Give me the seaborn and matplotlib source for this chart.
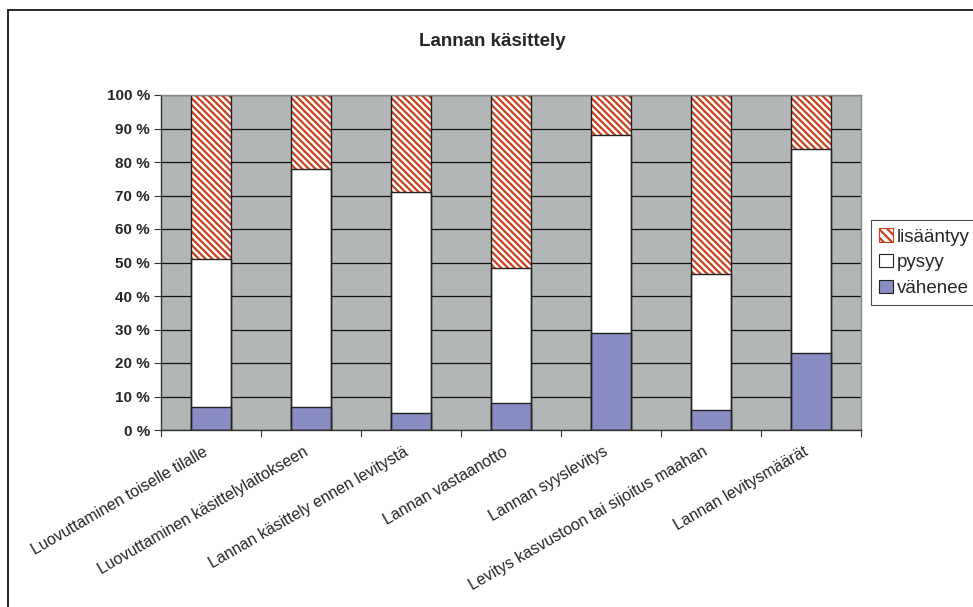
import matplotlib
matplotlib.use('Agg')
import matplotlib.pyplot as plt
import matplotlib.patches as mpatches
import matplotlib.transforms as mtransforms
import seaborn as sns
import pandas as pd

# Tiedot luettu kuvasta (prosentteja)
kohteet = ['Luovuttaminen toiselle tilalle', 'Luovuttaminen käsittelylaitokseen',
           'Lannan käsittely ennen levitystä', 'Lannan vastaanotto', 'Lannan syyslevitys',
           'Levitys kasvustoon tai sijoitus maahan', 'Lannan levitysmäärät']
vahenee = [7, 7, 5, 8, 29, 6, 23]
pysyy = [44, 71, 66, 40.5, 59, 40.5, 61]
lisaantyy = [49, 22, 29, 51.5, 12, 53.5, 16]

df = pd.DataFrame({'kohde': kohteet, 'vahenee': vahenee, 'pysyy': pysyy, 'lisaantyy': lisaantyy})
df['ala'] = df['vahenee']
df['keski'] = df['vahenee'] + df['pysyy']
df['yla'] = df['keski'] + df['lisaantyy']

harmaa = '#B3B6B6'
sininen = '#8A8CC4'
punainen = '#C8401E'
reuna = '#222222'
viivoitus = '\\' * 5

sns.set_style('white')
plt.rcParams['font.family'] = ['Liberation Sans', 'DejaVu Sans']
plt.rcParams['hatch.linewidth'] = 1.6

fig = plt.figure(figsize=(9.73, 6.07), dpi=100)
ax = fig.add_axes([161 / 973, 1 - 430 / 607, 700 / 973, 335 / 607])
ax.set_facecolor(harmaa)

# Pinotut pylväät päällekkäin: ensin kokonaisuus, sitten alemmat osat
sns.barplot(data=df, x='kohde', y='yla', width=0.4, color='white', saturation=1, errorbar=None, ax=ax)
sns.barplot(data=df, x='kohde', y='keski', width=0.4, color='white', saturation=1, errorbar=None, ax=ax)
sns.barplot(data=df, x='kohde', y='ala', width=0.4, color=sininen, saturation=1, errorbar=None, ax=ax)
sns.barplot(data=df, x='kohde', y='yla', width=0.4, color='white', saturation=1, errorbar=None, ax=ax)

for p in ax.containers[0]:
    p.set_facecolor('white')
    p.set_edgecolor(punainen)
    p.set_linewidth(0)
    p.set_hatch(viivoitus)
for c in (ax.containers[1], ax.containers[2]):
    for p in c:
        p.set_edgecolor(reuna)
        p.set_linewidth(1.0)
for p in ax.containers[3]:
    p.set_facecolor('none')
    p.set_edgecolor(reuna)
    p.set_linewidth(1.0)

ax.set_xlim(-0.5, len(kohteet) - 0.5)
ax.set_ylim(0, 100)
ax.set_xlabel('')
ax.set_ylabel('')

ax.set_axisbelow(True)
ax.yaxis.grid(True, color='#111111', linewidth=0.9)
ax.set_yticks(range(0, 101, 10))
ax.set_yticklabels([f'{v} %' for v in range(0, 101, 10)], fontweight='bold', fontsize=11)
ax.tick_params(axis='y', length=5, width=0.8, color='#333333', pad=3, left=True)

ax.set_xticks(range(len(kohteet)))
ax.set_xticklabels(kohteet, rotation=30, ha='right', rotation_mode='anchor', fontsize=11.5)
ax.tick_params(axis='x', which='major', length=0, pad=10)
siirto = mtransforms.ScaledTranslation(-8 / 100, 0, fig.dpi_scale_trans)
for lab in ax.get_xticklabels():
    lab.set_transform(lab.get_transform() + siirto)
ax.set_xticks([i - 0.5 for i in range(len(kohteet) + 1)], minor=True)
ax.tick_params(axis='x', which='minor', length=5, width=0.8, color='#333333', bottom=True)

for s in ('left', 'bottom'):
    ax.spines[s].set_color('#333333')
    ax.spines[s].set_linewidth(1.0)
for s in ('top', 'right'):
    ax.spines[s].set_color('#888888')
    ax.spines[s].set_linewidth(1.0)

fig.text(492 / 973, 1 - 41 / 607, 'Lannan käsittely', ha='center', va='center',
         fontsize=13.5, fontweight='bold')

kahvat = [mpatches.Patch(facecolor='white', edgecolor=punainen, hatch='\\' * 4, linewidth=0.8, label='lisääntyy'),
          mpatches.Patch(facecolor='white', edgecolor=reuna, linewidth=0.8, label='pysyy'),
          mpatches.Patch(facecolor=sininen, edgecolor=reuna, linewidth=0.8, label='vähenee')]
leg = fig.legend(handles=kahvat, loc='upper left', bbox_to_anchor=(871 / 973, 1 - 220 / 607),
                 frameon=True, fancybox=False, fontsize=13.5, handlelength=0.7, handleheight=0.7,
                 handletextpad=0.25, borderpad=0.45, labelspacing=0.45, borderaxespad=0)
leg.get_frame().set_edgecolor('#222222')
leg.get_frame().set_linewidth(0.8)

# Kehys koko kaavion ympärillä (jatkuu kuvan reunan yli)
fig.patches.append(mpatches.Rectangle((8 / 973, -0.1), 1.2, 1.1 - 10 / 607, transform=fig.transFigure,
                                      fill=False, edgecolor='black', linewidth=1.2, zorder=0))

fig.savefig('out.png', dpi=100)
